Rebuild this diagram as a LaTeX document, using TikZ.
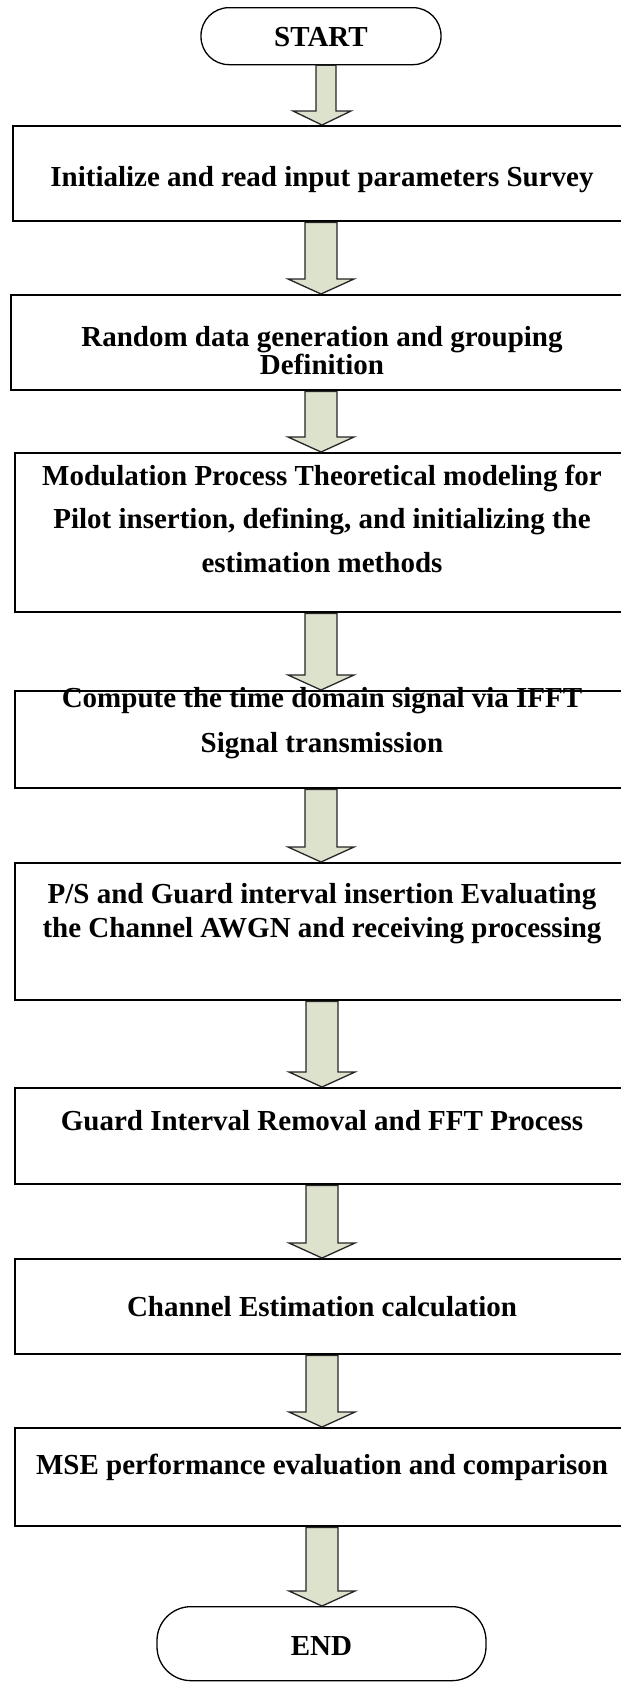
\documentclass[tikz,border=0pt]{standalone}
\usepackage{fontspec}
\setmainfont{Liberation Serif}
\usetikzlibrary{calc}
\definecolor{arrowfill}{RGB}{221,226,204}
\tikzset{
  box/.style={draw=black, line width=2.4pt, rectangle, inner sep=0pt, anchor=north},
  term/.style={draw=black, line width=1.3pt, rectangle, rounded corners=28pt, inner sep=0pt, anchor=north},
  lbl/.style={font=\fontsize{29}{34}\selectfont\bfseries, anchor=base, inner sep=0pt},
  barrow/.style={draw=black!85, line width=1.3pt, fill=arrowfill, line join=miter},
}
% #1 from node, #2 to node, #3 shaft half width, #4 head half width, #5 x offset
\newcommand\blockarr[5]{%
  \draw[barrow] let \p1=(#1.south), \p2=(#2.north) in
    (\x1+#5pt-#3pt,\y1) -- (\x1+#5pt-#3pt,\y2+15pt) -- (\x1+#5pt-#4pt,\y2+15pt)
    -- (\x1+#5pt,\y2) -- (\x1+#5pt+#4pt,\y2+15pt) -- (\x1+#5pt+#3pt,\y2+15pt)
    -- (\x1+#5pt+#3pt,\y1) -- cycle;}
\begin{document}
\begin{tikzpicture}[x=1pt,y=-1pt]
\useasboundingbox (0,0) rectangle (621,1682);
\clip (0,0) rectangle (621,1682);
\fill[white] (0,0) rectangle (621,1682);

% terminals and boxes
\node[term, minimum width=240pt, minimum height=57pt] (start) at (321,7) {};
\node[box, minimum width=616pt, minimum height=95pt]  (b1) at (321,125) {};
\node[box, minimum width=620pt, minimum height=95pt]  (b2) at (321,294) {};
\node[box, minimum width=612pt, minimum height=159pt] (b3) at (321,452) {};
\node[box, minimum width=612pt, minimum height=97pt]  (b4) at (321,690) {};
\node[box, minimum width=612pt, minimum height=137pt] (b5) at (321,862) {};
\node[box, minimum width=612pt, minimum height=96pt]  (b6) at (321,1087) {};
\node[box, minimum width=612pt, minimum height=95pt]  (b7) at (321,1258) {};
\node[box, minimum width=612pt, minimum height=98pt]  (b8) at (321,1427) {};
\node[term, rounded corners=34pt, minimum width=329pt, minimum height=74pt] (end) at (321.5,1606) {};

% texts
\node[lbl] (tstart) at (321,46) {START};
\node[lbl] (t1) at (322,186) {Initialize and read input parameters Survey};
\node[lbl] (t2a) at (322,346) {Random data generation and grouping};
\node[lbl] (t2b) at (322,374) {Definition};
\node[lbl] (t3a) at (322,485) {Modulation Process Theoretical modeling for};
\node[lbl] (t3b) at (322,528) {Pilot insertion, defining, and initializing the};
\node[lbl] (t3c) at (322,572) {estimation methods};
\node[lbl] (t4a) at (322,707) {Compute the time domain signal via IFFT};
\node[lbl] (t4b) at (322,752) {Signal transmission};
\node[lbl] (t5a) at (322,903) {P/S and Guard interval insertion Evaluating};
\node[lbl] (t5b) at (322,937) {the Channel AWGN and receiving processing};
\node[lbl] (t6) at (322,1130) {Guard Interval Removal and FFT Process};
\node[lbl] (t7) at (322,1316) {Channel Estimation calculation};
\node[lbl] (t8) at (322,1474) {MSE performance evaluation and comparison};
\node[lbl] (tend) at (321.5,1655) {END};

% block arrows
\draw[barrow] let \p1=(start.south), \p2=(b1.north) in
    (\x1-5pt,\y1) -- (\x1-5pt,\y2+14pt) -- (\x1-28pt,\y2+14pt)
    -- (\x1+1pt,\y2) -- (\x1+30pt,\y2+14pt) -- (\x1+15pt,\y2+14pt)
    -- (\x1+15pt,\y1) -- cycle;
\blockarr{b1}{b2}{16}{33}{0}
\blockarr{b2}{b3}{16}{33}{0}
\blockarr{b3}{b4}{16}{33}{0}
\blockarr{b4}{b5}{16}{33}{0}
\blockarr{b5}{b6}{16}{33}{1}
\blockarr{b6}{b7}{16}{33}{1}
\blockarr{b7}{b8}{16}{33}{1}
\blockarr{b8}{end}{16}{33}{1}
\end{tikzpicture}
\end{document}
